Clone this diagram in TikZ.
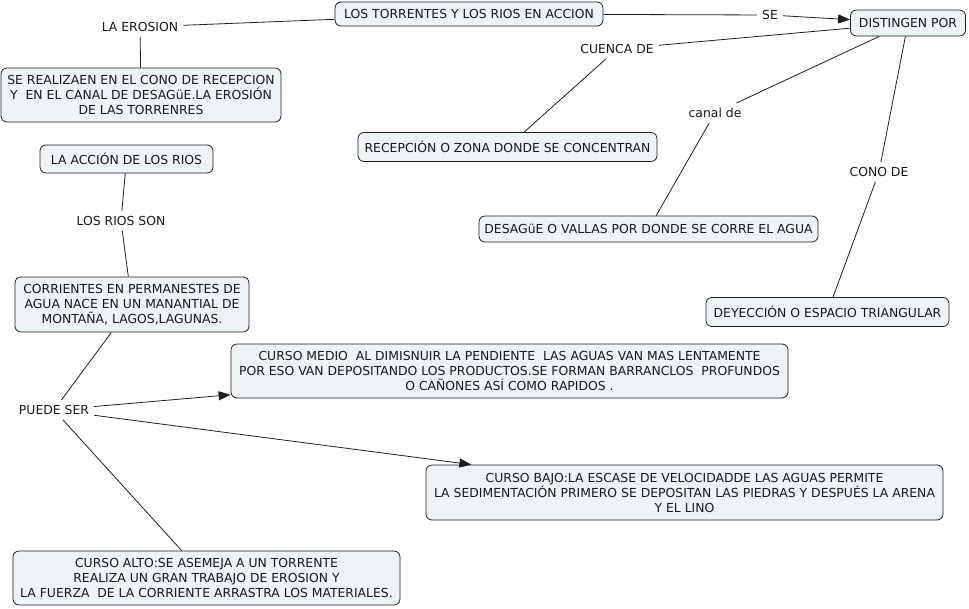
\documentclass[tikz,border=0pt]{standalone}
\usepackage{fontspec}
\setmainfont{DejaVu Sans}
\usetikzlibrary{arrows.meta}
\definecolor{boxfill}{RGB}{238,243,245}
\definecolor{ln}{RGB}{30,30,30}
\definecolor{txt}{RGB}{25,25,25}
\tikzset{
  cbox/.style={draw=ln, fill=boxfill, rounded corners=6pt, line width=0.8pt, inner sep=0pt, align=center, text=txt, font=\fontsize{12.4}{15}\selectfont},
  lbl/.style={inner sep=5pt, text=txt, font=\fontsize{12.4}{15}\selectfont},
  conn/.style={draw=ln, line width=0.8pt},
  arr/.style={conn, -{Triangle[length=12pt,width=9pt]}}
}
\begin{document}
\begin{tikzpicture}[x=1pt,y=-1pt]
\useasboundingbox (0,0) rectangle (969,608);
% boxes
\node[cbox, minimum width=268, minimum height=24] (torr) at (469,14) {LOS TORRENTES Y LOS RIOS EN ACCION};
\node[cbox, minimum width=115, minimum height=26] (dist) at (908,23) {DISTINGEN POR};
\node[cbox, minimum width=280, minimum height=54] (real) at (141,95) {SE REALIZAEN EN EL CONO DE RECEPCION\\Y\ \ EN EL CANAL DE DESAGüE.LA EROSIÓN\\DE LAS TORRENRES};
\node[cbox, minimum width=299, minimum height=29] (recep) at (507.5,147) {RECEPCIÓN O ZONA DONDE SE CONCENTRAN};
\node[cbox, minimum width=339, minimum height=26] (desag) at (648.5,229) {DESAGüE O VALLAS POR DONDE SE CORRE EL AGUA};
\node[cbox, minimum width=243, minimum height=29] (deyec) at (827.5,312) {DEYECCIÓN O ESPACIO TRIANGULAR};
\node[cbox, minimum width=173, minimum height=28] (accion) at (126.5,159) {LA ACCIÓN DE LOS RIOS};
\node[cbox, minimum width=234, minimum height=55] (corr) at (132,304.5) {CORRIENTES EN PERMANESTES DE\\AGUA NACE EN UN MANANTIAL DE\\MONTAÑA, LAGOS,LAGUNAS.};
\node[cbox, minimum width=557, minimum height=54] (medio) at (509.5,371) {CURSO MEDIO\ \ AL DIMISNUIR LA PENDIENTE\ \ LAS AGUAS VAN MAS LENTAMENTE\\POR ESO VAN DEPOSITANDO LOS PRODUCTOS.SE FORMAN BARRANCLOS\ \ PROFUNDOS\\O CAÑONES ASÍ COMO RAPIDOS .};
\node[cbox, minimum width=517, minimum height=55] (bajo) at (684.5,492.5) {CURSO BAJO:LA ESCASE DE VELOCIDADDE LAS AGUAS PERMITE\\LA SEDIMENTACIÓN PRIMERO SE DEPOSITAN LAS PIEDRAS Y DESPUÉS LA ARENA\\Y EL LINO};
\node[cbox, minimum width=387, minimum height=54] (alto) at (206.5,578) {CURSO ALTO:SE ASEMEJA A UN TORRENTE\\REALIZA UN GRAN TRABAJO DE EROSION Y\\LA FUERZA\ \ DE LA CORRIENTE ARRASTRA LOS MATERIALES.};
% labels
\node[lbl] (eros) at (140,27) {LA EROSION};
\node[lbl] (se) at (770,15) {SE};
\node[lbl] (cuenca) at (617,49) {CUENCA DE};
\node[lbl] (canal) at (715,113) {canal de};
\node[lbl] (cono) at (879,172) {CONO DE};
\node[lbl] (son) at (121,221) {LOS RIOS SON};
\node[lbl] (puede) at (54,410) {PUEDE SER};
% connectors
\draw[conn] (torr) -- (eros);
\draw[conn] (eros) -- (real);
\draw[conn] (torr) -- (se);
\draw[arr] (se) -- (dist);
\draw[conn] (dist) -- (cuenca);
\draw[conn] (cuenca) -- (recep);
\draw[conn] (dist) -- (canal);
\draw[conn] (canal) -- (desag);
\draw[conn] (dist) -- (cono);
\draw[conn] (cono) -- (deyec);
\draw[conn] (accion) -- (son);
\draw[conn] (son) -- (corr);
\draw[conn] (corr) -- (puede);
\draw[arr] (puede) -- (medio);
\draw[arr] (puede) -- (bajo);
\draw[conn] (puede) -- (alto);
\end{tikzpicture}
\end{document}
